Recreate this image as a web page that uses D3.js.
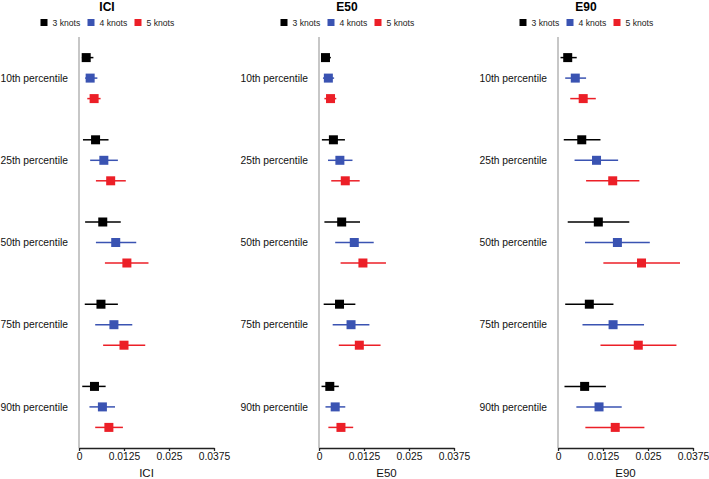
<!DOCTYPE html>
<html><head><meta charset="utf-8">
<script src="https://cdn.jsdelivr.net/npm/d3@7/dist/d3.min.js"></script>
<style>body{margin:0;background:#fff}svg{display:block}text{font-family:"Liberation Sans",Arial,sans-serif}</style>
</head><body><svg id="c" width="709" height="479"></svg>
<script>
const categories = ["10th percentile","25th percentile","50th percentile","75th percentile","90th percentile"];
const seriesNames = ["3 knots","4 knots","5 knots"];
const seriesColors = ["#000000","#3a53b2","#ec1f27"];
const panelNames = ["ICI","E50","E90"];
const tickValues = [0, 0.0125, 0.025, 0.0375];
const tickLabels = ["0","0.0125","0.025","0.0375"];

// ICI: [3 knots, 4 knots, 5 knots] per category
const ICI_est = [[0.0020,0.0046,0.0066,0.0061,0.0043],[0.0031,0.0069,0.0102,0.0097,0.0065],[0.0042,0.0088,0.0133,0.0125,0.0083]];
const ICI_lo  = [[0.0008,0.0011,0.0017,0.0016,0.0009],[0.0017,0.0031,0.0047,0.0045,0.0029],[0.0023,0.0047,0.0072,0.0067,0.0045]];
const ICI_hi  = [[0.0040,0.0082,0.0116,0.0108,0.0074],[0.0051,0.0108,0.0159,0.0148,0.0100],[0.0060,0.0130,0.0193,0.0184,0.0122]];

const E50_est = [[0.0018,0.0040,0.0063,0.0057,0.0030],[0.0026,0.0058,0.0098,0.0089,0.0045],[0.0032,0.0073,0.0122,0.0112,0.0061]];
const E50_lo  = [[0.0006,0.0008,0.0015,0.0013,0.0007],[0.0011,0.0025,0.0045,0.0038,0.0018],[0.0015,0.0034,0.0060,0.0055,0.0026]];
const E50_hi  = [[0.0033,0.0072,0.0114,0.0101,0.0055],[0.0042,0.0093,0.0152,0.0140,0.0073],[0.0048,0.0113,0.0186,0.0171,0.0095]];

const E90_est = [[0.0027,0.0066,0.0112,0.0087,0.0074],[0.0048,0.0107,0.0165,0.0153,0.0114],[0.0070,0.0152,0.0232,0.0223,0.0159]];
const E90_lo  = [[0.0007,0.0016,0.0027,0.0020,0.0018],[0.0020,0.0046,0.0075,0.0068,0.0051],[0.0034,0.0078,0.0126,0.0118,0.0076]];
const E90_hi  = [[0.0052,0.0118,0.0198,0.0154,0.0133],[0.0078,0.0167,0.0255,0.0239,0.0177],[0.0105,0.0226,0.0339,0.0329,0.0240]];

const panelData = [[ICI_est,ICI_lo,ICI_hi],[E50_est,E50_lo,E50_hi],[E90_est,E90_lo,E90_hi]];

const svg = d3.select("#c");
const axisX0 = [79, 319, 558];
const plotW = 135;
const yTop = 37, yBot = 448;
const y = d3.scaleBand().domain(categories).range([yTop, yBot]);
const off = d3.scalePoint().domain(seriesNames).range([-20.5, 20.5]);
const sq = 9;

panelNames.forEach((pn, pi) => {
  const g = svg.append("g").attr("transform", `translate(${axisX0[pi]},0)`);
  const x = d3.scaleLinear().domain([0, 0.0375]).range([0, plotW]);
  const cx = plotW/2 - 39.5;
  // title
  g.append("text").attr("x", cx).attr("y", 10.5).attr("text-anchor","middle")
    .attr("font-size", 12).attr("font-weight","bold").text(pn);
  // legend
  const legW = 133;
  const lg = g.append("g").attr("transform", `translate(${cx - legW/2},0)`);
  const legX = [0, 47, 94];
  seriesNames.forEach((s, si) => {
    lg.append("rect").attr("x", legX[si]).attr("y", 19).attr("width", 7).attr("height", 7).attr("fill", seriesColors[si]);
    lg.append("text").attr("x", legX[si] + 12).attr("y", 26).attr("font-size", 8.6).attr("fill","#222").text(s);
  });
  // y axis line
  g.append("line").attr("x1",0).attr("x2",0).attr("y1",yTop).attr("y2",yBot)
    .attr("stroke","#b5b5b5").attr("stroke-width",1.5);
  // category labels
  categories.forEach(c => {
    g.append("text").attr("x", -11).attr("y", y(c) + y.bandwidth()/2).attr("dy","0.35em")
      .attr("text-anchor","end").attr("font-size", 10.3).attr("fill","#111").text(c);
  });
  // x axis
  const ax = d3.axisBottom(x).tickValues(tickValues).tickFormat((d,i)=>tickLabels[i]).tickSize(3).tickSizeOuter(0);
  const axg = g.append("g").attr("transform", `translate(0,${yBot})`).call(ax);
  axg.select(".domain").attr("stroke","#222").attr("stroke-width",1.3);
  axg.selectAll(".tick line").attr("stroke","#222").attr("stroke-width",1.3);
  axg.selectAll(".tick text").attr("font-size", 10.3).attr("fill","#111").attr("y", 5).attr("font-family", '"Liberation Sans",Arial,sans-serif');
  g.append("text").attr("x", plotW/2).attr("y", 477).attr("text-anchor","middle").attr("font-size", 11.5).attr("fill","#111").text(pn);
  // marks
  const [est, lo, hi] = panelData[pi];
  seriesNames.forEach((s, si) => {
    categories.forEach((c, ci) => {
      const yy = y(c) + y.bandwidth()/2 + off(s);
      g.append("line").attr("x1", x(lo[si][ci])).attr("x2", x(hi[si][ci])).attr("y1", yy).attr("y2", yy)
        .attr("stroke", seriesColors[si]).attr("stroke-width", 1.5);
      g.append("rect").attr("x", x(est[si][ci]) - sq/2).attr("y", yy - sq/2).attr("width", sq).attr("height", sq)
        .attr("fill", seriesColors[si]);
    });
  });
});
</script></body></html>
